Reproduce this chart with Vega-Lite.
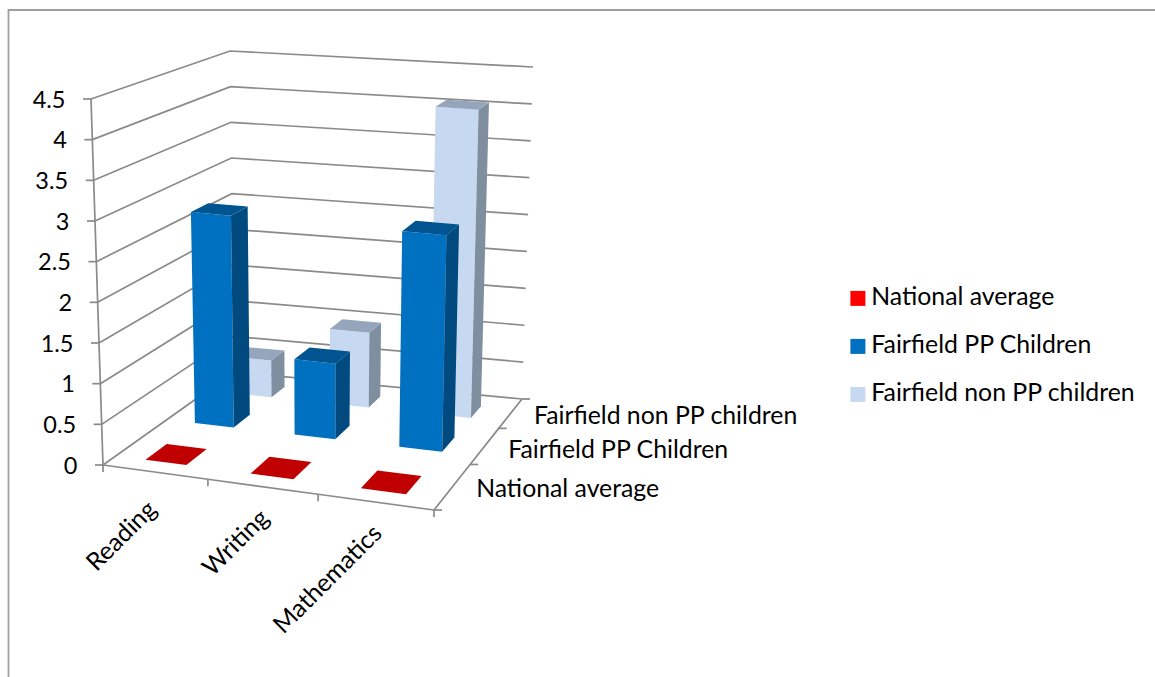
{
"$schema":"https://vega.github.io/schema/vega-lite/v6.json",
"width":1150,"height":668,
"autosize":{"type":"none"},
"padding":{"left":8.5,"top":10,"right":0,"bottom":0},
"background":"white",
"config":{"view":{"stroke":"#a0a0a0","strokeWidth":1.8},"text":{"font":"Lato"},"font":"Lato"},
"datasets":{
"bars":[
{"category":"Reading","series":"Fairfield non PP children","value":0.5},
{"category":"Writing","series":"Fairfield non PP children","value":1},
{"category":"Mathematics","series":"Fairfield non PP children","value":4.08},
{"category":"Reading","series":"Fairfield PP Children","value":2.75},
{"category":"Writing","series":"Fairfield PP Children","value":0.97},
{"category":"Mathematics","series":"Fairfield PP Children","value":2.75},
{"category":"Reading","series":"National average","value":0},
{"category":"Writing","series":"National average","value":0},
{"category":"Mathematics","series":"National average","value":0}
],
"levels":[{"level":0},{"level":0.5},{"level":1},{"level":1.5},{"level":2},{"level":2.5},{"level":3},{"level":3.5},{"level":4},{"level":4.5}],
"boundaries":[{"b":0},{"b":1},{"b":2},{"b":3}],
"categories":[{"category":"Reading","i":0},{"category":"Writing","i":1},{"category":"Mathematics","i":2}],
"seriesNames":[{"series":"National average","i":0},{"series":"Fairfield PP Children","i":1},{"series":"Fairfield non PP children","i":2}]
},
"encoding":{
"x":{"field":"X","type":"quantitative","scale":{"domain":[8.5,1158.5],"nice":false,"zero":false},"axis":null},
"y":{"field":"Y","type":"quantitative","scale":{"domain":[10,678],"nice":false,"zero":false,"reverse":true},"axis":null}
},
"layer":[
{"data":{"name":"levels"},
"transform":[
{"calculate":"[0,1,2]","as":"station"},{"flatten":["station"]},
{"calculate":"datum.station==2?1:0","as":"u"},{"calculate":"datum.station==0?0:1","as":"v"},{"calculate":"datum.level/4.5","as":"t"},
{"calculate":"datum.u*0.928/(1-0.072*datum.u)","as":"ue"},{"calculate":"datum.v*1.39/(1+0.39*datum.v)","as":"ve"},
{"calculate":"(1-datum.ue)*(1-datum.ve)*(103-12*datum.t)+datum.ue*(1-datum.ve)*(434+7*datum.t)+(1-datum.ue)*datum.ve*(234-4*datum.t)+datum.ue*datum.ve*(522+11*datum.t)","as":"X"},
{"calculate":"(1-datum.ue)*(1-datum.ve)*(465-366*datum.t)+datum.ue*(1-datum.ve)*(510-378*datum.t)+(1-datum.ue)*datum.ve*(372-321*datum.t)+datum.ue*datum.ve*(399-332*datum.t)","as":"Y"}],
"mark":{"type":"line","stroke":"#8a8a8a","strokeWidth":1.7,"interpolate":"linear"},
"encoding":{"detail":{"field":"level"},"order":{"field":"station"}}},
{"data":{"name":"levels"},
"transform":[
{"calculate":"datum.level/4.5","as":"t"},
{"calculate":"103-12*datum.t","as":"X"},{"calculate":"465-366*datum.t","as":"Y"},{"calculate":"datum.X-8","as":"X2"}],
"layer":[
{"mark":{"type":"line","stroke":"#8a8a8a","strokeWidth":1.7},"encoding":{"order":{"field":"level"}}},
{"mark":{"type":"rule","stroke":"#8a8a8a","strokeWidth":1.7},"encoding":{"x2":{"field":"X2"}}},
{"transform":[{"calculate":"datum.X-25.5","as":"XL"},{"calculate":"datum.Y+1.5","as":"YL"}],
 "mark":{"type":"text","align":"right","baseline":"middle","fontSize":23.5,"font":"Lato","color":"#000000"},
 "encoding":{"x":{"field":"XL","type":"quantitative"},"y":{"field":"YL","type":"quantitative"},"text":{"field":"level","type":"nominal"}}}
]},
{"data":{"name":"boundaries"},
"transform":[
{"calculate":"datum.b/3","as":"u"},{"calculate":"datum.u*0.928/(1-0.072*datum.u)","as":"ue"},
{"calculate":"103+331*datum.ue","as":"X"},{"calculate":"465+45*datum.ue","as":"Y"},{"calculate":"datum.Y+7","as":"Y2"}],
"layer":[
{"mark":{"type":"line","stroke":"#8a8a8a","strokeWidth":1.7},"encoding":{"order":{"field":"b"}}},
{"mark":{"type":"rule","stroke":"#8a8a8a","strokeWidth":1.7},"encoding":{"y2":{"field":"Y2"}}}
]},
{"data":{"name":"boundaries"},
"transform":[
{"calculate":"datum.b/3","as":"v"},{"calculate":"datum.v*1.39/(1+0.39*datum.v)","as":"ve"},
{"calculate":"434+88*datum.ve","as":"X"},{"calculate":"510-111*datum.ve","as":"Y"},{"calculate":"datum.X+8","as":"X2"}],
"layer":[
{"mark":{"type":"line","stroke":"#8a8a8a","strokeWidth":1.7},"encoding":{"order":{"field":"b"}}},
{"mark":{"type":"rule","stroke":"#8a8a8a","strokeWidth":1.7},"encoding":{"x2":{"field":"X2"}}}
]},
{"data":{"name":"bars"},
"transform":[
{"calculate":"indexof(['Reading','Writing','Mathematics'],datum.category)","as":"ci"},
{"calculate":"indexof(['National average','Fairfield PP Children','Fairfield non PP children'],datum.series)","as":"di"},
{"calculate":"['front','side','top']","as":"face"},{"flatten":["face"]},
{"calculate":"[0,1,2,3]","as":"corner"},{"flatten":["corner"]},
{"calculate":"(datum.ci+0.29)/3","as":"u0"},{"calculate":"(datum.ci+0.685)/3","as":"u1"},
{"calculate":"(datum.di+0.22)/3","as":"v0"},{"calculate":"(datum.di+0.62)/3","as":"v1"},
{"calculate":"datum.face=='side'?datum.u1:(datum.corner==0||datum.corner==3?datum.u0:datum.u1)","as":"u"},
{"calculate":"datum.face=='front'?datum.v0:datum.face=='side'?(datum.corner==0||datum.corner==3?datum.v0:datum.v1):(datum.corner<2?datum.v0:datum.v1)","as":"v"},
{"calculate":"datum.face=='top'?datum.value/4.5:(datum.corner<2?0:datum.value/4.5)","as":"t"},
{"calculate":"datum.u*0.928/(1-0.072*datum.u)","as":"ue"},{"calculate":"datum.v*1.39/(1+0.39*datum.v)","as":"ve"},
{"calculate":"(1-datum.ue)*(1-datum.ve)*(103-12*datum.t)+datum.ue*(1-datum.ve)*(434+7*datum.t)+(1-datum.ue)*datum.ve*(234-4*datum.t)+datum.ue*datum.ve*(522+11*datum.t)","as":"X"},
{"calculate":"(1-datum.ue)*(1-datum.ve)*(465-366*datum.t)+datum.ue*(1-datum.ve)*(510-378*datum.t)+(1-datum.ue)*datum.ve*(372-321*datum.t)+datum.ue*datum.ve*(399-332*datum.t)","as":"Y"},
{"calculate":"datum.face=='front'?datum.series:datum.series+' '+datum.face","as":"faceKey"},
{"calculate":"datum.category+' '+datum.faceKey","as":"faceId"}],
"mark":{"type":"line","strokeWidth":0,"interpolate":"linear"},
"encoding":{
"detail":{"field":"faceId"},
"order":{"field":"corner"},
"fill":{"field":"faceKey","type":"nominal",
 "scale":{"domain":["National average","Fairfield PP Children","Fairfield non PP children","National average side","National average top","Fairfield PP Children side","Fairfield PP Children top","Fairfield non PP children side","Fairfield non PP children top"],
 "range":["#ff0000","#0070c0","#c6d9f1","#c00000","#c00000","#004a80","#005490","#7f8fa0","#94a5bc"]},
 "legend":{"values":["National average","Fairfield PP Children","Fairfield non PP children"],"title":null,"orient":"none","legendX":837,"legendY":276,"padding":0,"symbolType":"square","symbolSize":225,"symbolStrokeWidth":0,"labelFont":"Lato","labelFontSize":24.8,"labelColor":"#000000","labelOffset":1,"labelLimit":400,"rowPadding":22,"symbolOffset":0}}
}},
{"data":{"name":"categories"},
"transform":[
{"calculate":"(datum.i+0.5)/3","as":"u"},{"calculate":"datum.u*0.928/(1-0.072*datum.u)","as":"ue"},
{"calculate":"103+331*datum.ue+3-(datum.i==0?5:0)","as":"X"},{"calculate":"465+45*datum.ue+28+(datum.i==0?6:0)","as":"Y"}],
"mark":{"type":"text","align":"right","baseline":"middle","angle":315,"fontSize":24.8,"font":"Lato","color":"#000000"},
"encoding":{"text":{"field":"category"}}},
{"data":{"name":"seriesNames"},
"transform":[
{"calculate":"(datum.i+0.5)/3","as":"v"},{"calculate":"datum.v*1.39/(1+0.39*datum.v)","as":"ve"},
{"calculate":"434+88*datum.ve+23","as":"X"},{"calculate":"510-111*datum.ve+4+(datum.i==1?1.5:0)","as":"Y"}],
"mark":{"type":"text","align":"left","baseline":"middle","fontSize":24.8,"font":"Lato","color":"#000000"},
"encoding":{"text":{"field":"series"}}}
]
}
